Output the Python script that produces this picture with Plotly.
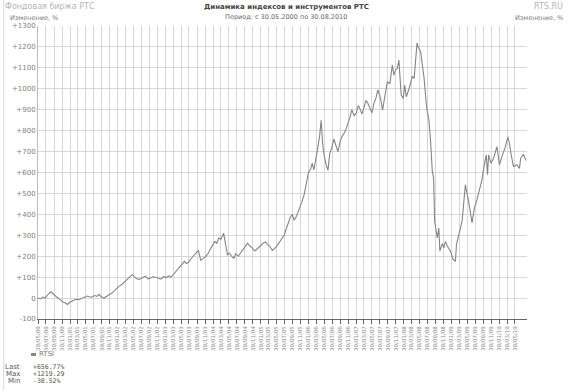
import plotly.graph_objects as go
import pandas as pd

# ---------------- data ----------------
dates = [
    "2000-05-30", "2000-06-20", "2000-07-10", "2000-07-25", "2000-08-15", "2000-09-05", "2000-09-20",
    "2000-10-05", "2000-10-20", "2000-11-10", "2000-11-25", "2000-12-10", "2000-12-25", "2001-01-12",
    "2001-01-28", "2001-02-12", "2001-02-25", "2001-03-15", "2001-04-05", "2001-04-25", "2001-05-15",
    "2001-06-12", "2001-06-28", "2001-07-15", "2001-08-05", "2001-08-25", "2001-09-10", "2001-09-25",
    "2001-10-18", "2001-11-08", "2001-11-25", "2001-12-20", "2002-01-10", "2002-01-28", "2002-02-10",
    "2002-03-05", "2002-03-25", "2002-04-15", "2002-05-05", "2002-05-22", "2002-06-10", "2002-06-25",
    "2002-07-12", "2002-07-28", "2002-08-15", "2002-08-31", "2002-09-20", "2002-10-10", "2002-10-30",
    "2002-11-20", "2002-12-10", "2002-12-28", "2003-01-15", "2003-02-05", "2003-02-25", "2003-03-15",
    "2003-04-05", "2003-04-25", "2003-05-15", "2003-06-05", "2003-06-25", "2003-07-10", "2003-07-28",
    "2003-08-15", "2003-09-01", "2003-09-20", "2003-10-10", "2003-10-28", "2003-11-15", "2003-12-05",
    "2003-12-25", "2004-01-12", "2004-01-28", "2004-02-12", "2004-02-28", "2004-03-15", "2004-03-30",
    "2004-04-20", "2004-05-05", "2004-05-20", "2004-06-05", "2004-06-20", "2004-07-08", "2004-07-22",
    "2004-08-10", "2004-08-28", "2004-09-15", "2004-10-01", "2004-10-20", "2004-11-05", "2004-11-25",
    "2004-12-15", "2005-01-10", "2005-01-28", "2005-02-15", "2005-03-05", "2005-03-25", "2005-04-12",
    "2005-04-28", "2005-05-15", "2005-06-05", "2005-06-25", "2005-07-12", "2005-07-28", "2005-08-12",
    "2005-08-28", "2005-09-12", "2005-09-28", "2005-10-12", "2005-10-28", "2005-11-12", "2005-11-28",
    "2005-12-12", "2005-12-28", "2006-01-15", "2006-01-30", "2006-02-15", "2006-02-28", "2006-03-12",
    "2006-03-28", "2006-04-12", "2006-04-26", "2006-05-07", "2006-05-18", "2006-05-30", "2006-06-13",
    "2006-06-28", "2006-07-12", "2006-07-28", "2006-08-12", "2006-08-28", "2006-09-12", "2006-09-28",
    "2006-10-12", "2006-10-28", "2006-11-12", "2006-11-28", "2006-12-12", "2006-12-28", "2007-01-15",
    "2007-01-31", "2007-02-15", "2007-02-28", "2007-03-15", "2007-03-31", "2007-04-15", "2007-04-30",
    "2007-05-15", "2007-05-31", "2007-06-15", "2007-06-30", "2007-07-15", "2007-08-05", "2007-08-20",
    "2007-09-05", "2007-09-25", "2007-10-15", "2007-11-03", "2007-11-15", "2007-11-28", "2007-12-10",
    "2007-12-23", "2008-01-10", "2008-01-26", "2008-02-05", "2008-02-18", "2008-03-10", "2008-03-25",
    "2008-04-04", "2008-04-18", "2008-04-30", "2008-05-10", "2008-05-19", "2008-05-27", "2008-06-07",
    "2008-06-20", "2008-07-02", "2008-07-23", "2008-08-09", "2008-08-22", "2008-09-04", "2008-09-14",
    "2008-09-22", "2008-10-12", "2008-10-24", "2008-11-01", "2008-11-19", "2008-12-01", "2008-12-14",
    "2008-12-27", "2009-01-10", "2009-01-21", "2009-02-11", "2009-02-28", "2009-03-08", "2009-03-25",
    "2009-04-20", "2009-05-15", "2009-06-09", "2009-07-05", "2009-07-23", "2009-08-12", "2009-08-30",
    "2009-09-19", "2009-10-02", "2009-10-22", "2009-11-01", "2009-11-09", "2009-11-27", "2009-12-17",
    "2010-01-12", "2010-01-31", "2010-02-19", "2010-03-16", "2010-04-05", "2010-04-15", "2010-05-01",
    "2010-05-18", "2010-06-13", "2010-07-03", "2010-07-13", "2010-08-02", "2010-08-23", "2010-08-30",
]
rtsi_pct = [
    0, -3, 5, 0, 18, 30, 22,
    12, 5, -5, -14, -20, -24, -30.52,
    -20, -16, -10, -6, -8, -2, 2,
    10, 6, 4, 12, 8, 18, 6,
    0, 10, 16, 25, 40, 48, 57,
    66, 78, 95, 105, 113, 100, 92,
    89, 96, 100, 105, 92, 96, 102,
    98, 94, 90, 102, 98, 106, 100,
    115, 128, 145, 160, 175, 165, 172,
    188, 200, 210, 228, 180, 190, 198,
    215, 240, 255, 270, 262, 288, 280,
    310, 255, 205, 215, 200, 190, 212,
    200, 215, 230, 245, 262, 250, 240,
    225, 238, 250, 262, 268, 255, 245,
    228, 236, 252, 268, 282, 300, 330,
    360, 385, 400, 372, 388, 412, 430,
    462, 495, 545, 600, 615, 645, 612,
    660, 720, 780, 850, 740, 680, 640,
    610, 690, 720, 760, 725, 700, 745,
    770, 785, 805, 835, 860, 900, 870,
    885, 920, 905, 880, 910, 945, 930,
    905, 885, 930, 955, 995, 954, 898,
    954, 1033, 1025, 1113, 1065, 1090, 1097,
    1137, 970, 954, 1018, 962, 1000, 1041,
    1060, 1049, 1150, 1219.29, 1200, 1192,
    1176, 1113, 1057, 906, 851, 748, 605,
    573, 367, 287, 335, 224, 260, 240,
    271, 250, 232, 224, 184, 176, 257,
    305, 367, 541, 462, 359, 430, 470,
    510, 565, 620, 684, 589, 684, 644,
    668, 724, 637, 676, 720, 770, 748,
    684, 629, 637, 620, 668, 687, 656.77,
]

y_ticks = [-100, 0, 100, 200, 300, 400, 500, 600, 700, 800, 900, 1000, 1100, 1200, 1300]
y_tick_text = ["-100", "0", "+100", "+200", "+300", "+400", "+500", "+600", "+700",
               "+800", "+900", "+1000", "+1100", "+1200", "+1300"]

# x ticks every two months from 30.05.2000
tick_dates = []
for k in range(61):
    m0 = 4 + 2 * k
    yr, mo = 2000 + m0 // 12, m0 % 12 + 1
    last_day = (pd.Timestamp(yr, mo, 1) + pd.offsets.MonthEnd(0)).day
    tick_dates.append(pd.Timestamp(yr, mo, min(30, last_day)))
tick_text = [d.strftime("%d/%m/%y") for d in tick_dates]

series_name = "RTSI"
stat_last = "+656.77%"
stat_max = "+1219.29"
stat_min = "-30.52%"

title_text = "Динамика индексов и инструментов РТС"
period_text = "Период: с 30.05.2000 по 30.08.2010"

# ---------------- figure ----------------
FONT = "DejaVu Sans"
fig = go.Figure()
fig.add_trace(go.Scatter(
    x=pd.to_datetime(dates), y=rtsi_pct, mode="lines",
    line=dict(color="#858585", width=1.1), name=series_name, showlegend=False,
))

fig.update_layout(
    width=570, height=390,
    margin=dict(l=35, r=43, t=26, b=71),
    paper_bgcolor="white", plot_bgcolor="white",
    font=dict(family=FONT, size=7, color="#666"),
    xaxis=dict(
        range=[pd.Timestamp("2000-05-30"), pd.Timestamp("2010-08-30")],
        tickvals=tick_dates, ticktext=tick_text, tickangle=-90,
        tickfont=dict(size=5.5, color="#8a8a8a"),
        showgrid=True, gridcolor="#d6d6d6", gridwidth=1,
        showline=True, linecolor="#666", linewidth=1,
        ticks="outside", ticklen=4, tickcolor="#666",
        zeroline=False,
    ),
    yaxis=dict(
        range=[-100, 1300], tickvals=y_ticks, ticktext=y_tick_text,
        tickfont=dict(size=7, color="#808080"),
        showgrid=True, gridcolor="#d6d6d6", gridwidth=1,
        showline=True, linecolor="#bbb", linewidth=1,
        ticks="", zeroline=False,
    ),
    yaxis2=dict(
        range=[-100, 1300], tickvals=y_ticks, ticktext=y_tick_text,
        overlaying="y", side="right", anchor="x",
        tickfont=dict(size=7, color="#808080"),
        showgrid=False, showline=False, ticks="", zeroline=False,
    ),
)

# header texts
fig.add_annotation(text="Фондовая биржа РТС", xref="paper", yref="paper",
                   x=-35/492, y=1 + 20/293, xanchor="left", yanchor="middle",
                   showarrow=False, font=dict(family=FONT, size=8, color="#b5b5b5"))
fig.add_annotation(text="RTS.RU", xref="paper", yref="paper",
                   x=(565-35)/492, y=1 + 20/293, xanchor="right", yanchor="middle",
                   showarrow=False, font=dict(family=FONT, size=8, color="#b5b5b5"))
fig.add_annotation(text="<b>" + title_text + "</b>", xref="paper", yref="paper",
                   x=(285-35)/492, y=1 + 19.5/293, xanchor="center", yanchor="middle",
                   showarrow=False, font=dict(family=FONT, size=7, color="#444"))
fig.add_annotation(text=period_text, xref="paper", yref="paper",
                   x=(285-35)/492, y=1 + 9/293, xanchor="center", yanchor="middle",
                   showarrow=False, font=dict(family=FONT, size=6.5, color="#666"))
fig.add_annotation(text="Изменение, %", xref="paper", yref="paper",
                   x=-30/492, y=1 + 8/293, xanchor="left", yanchor="middle",
                   showarrow=False, font=dict(family=FONT, size=6.5, color="#777"))
fig.add_annotation(text="Изменение, %", xref="paper", yref="paper",
                   x=(565-35)/492, y=1 + 8/293, xanchor="right", yanchor="middle",
                   showarrow=False, font=dict(family=FONT, size=6.5, color="#777"))

# legend block (bottom-left)
def py(ypx):
    return (318.6 - ypx) / 292.6

fig.add_shape(type="line", xref="paper", yref="paper",
              x0=(28-35)/492, x1=(33-35)/492, y0=py(354), y1=py(354),
              line=dict(color="#858585", width=3))
fig.add_annotation(text=series_name, xref="paper", yref="paper",
                   x=(34-35)/492, y=py(354), xanchor="left", yanchor="middle",
                   showarrow=False, font=dict(family=FONT, size=7, color="#777"))
rows = [("Last", stat_last, 366.5), ("Max", stat_max, 374), ("Min", stat_min, 381)]
for lab, val, ypx in rows:
    fig.add_annotation(text=lab, xref="paper", yref="paper",
                       x=(19-35)/492, y=py(ypx), xanchor="right", yanchor="middle",
                       showarrow=False, font=dict(family=FONT, size=7, color="#555"))
    fig.add_annotation(text=val, xref="paper", yref="paper",
                       x=(28-35)/492, y=py(ypx), xanchor="left", yanchor="middle",
                       showarrow=False, font=dict(family="DejaVu Sans Mono", size=6.5, color="#555"))

# thin frame on the left edge
fig.add_shape(type="line", xref="paper", yref="paper",
              x0=-34.5/492, x1=-34.5/492, y0=py(390), y1=py(0),
              line=dict(color="#d8d8d8", width=1))

fig.write_html("out.html")
